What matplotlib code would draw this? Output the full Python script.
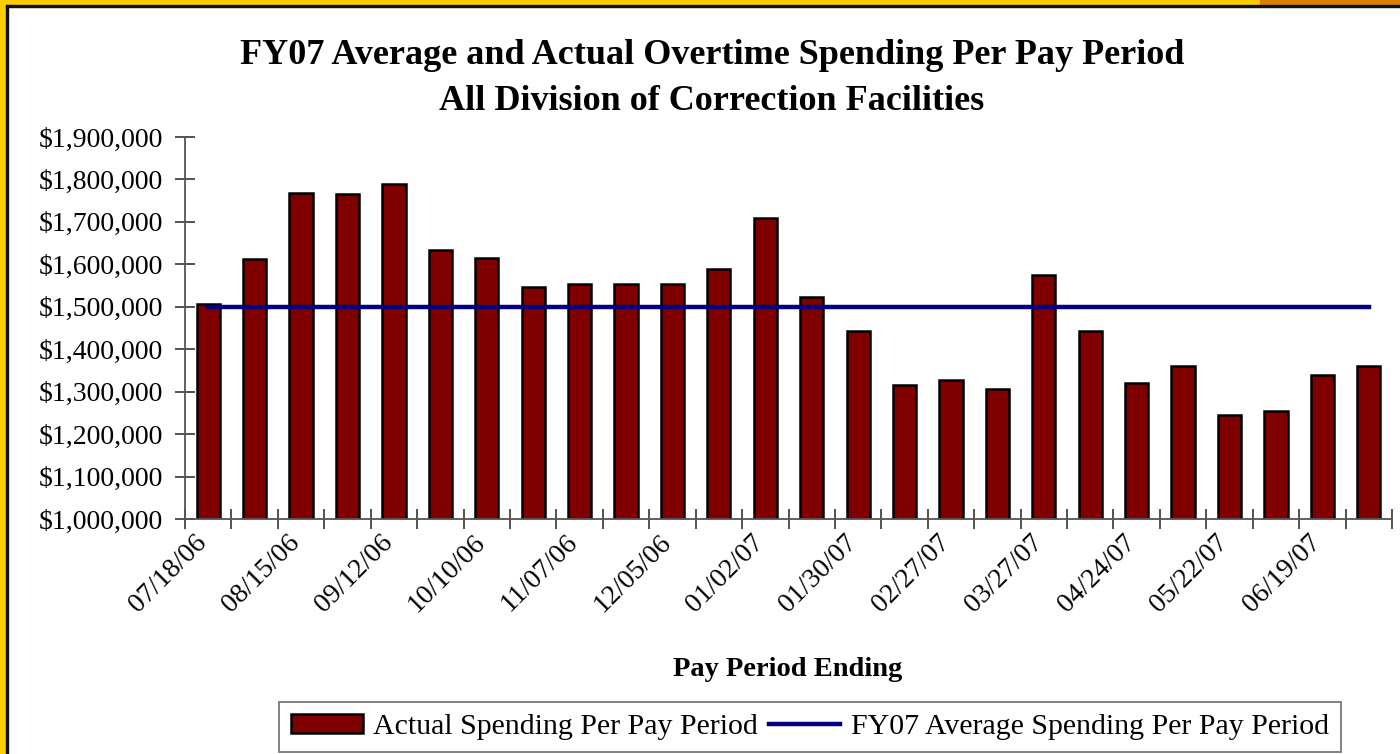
import matplotlib
matplotlib.use("Agg")
import matplotlib.pyplot as plt
import matplotlib.patches as patches
import matplotlib.transforms as mtransforms
from matplotlib.ticker import FuncFormatter, MultipleLocator
import numpy as np

plt.rcParams['font.family'] = ['Liberation Serif', 'DejaVu Serif']

# data (26 bi-weekly pay periods)
spending = [1507000, 1613000, 1768000, 1766000, 1789000, 1634000, 1615000,
            1547000, 1554000, 1554000, 1554000, 1589000, 1709000, 1523000,
            1443000, 1316000, 1328000, 1306000, 1575000, 1443000, 1320000,
            1360000, 1245000, 1254000, 1339000, 1360000]
average_spending = 1500000
tick_labels = ["07/18/06", "08/15/06", "09/12/06", "10/10/06", "11/07/06",
               "12/05/06", "01/02/07", "01/30/07", "02/27/07", "03/27/07",
               "04/24/07", "05/22/07", "06/19/07"]

W, H = 1400, 754
fig = plt.figure(figsize=(W / 100, H / 100), dpi=100)
fig.patch.set_facecolor("white")

# frame around the slide
fig.patches.append(patches.Rectangle((0, 0), 6 / W, 1, transform=fig.transFigure,
                                     color="#FFCC00", zorder=0))
fig.patches.append(patches.Rectangle((0, 1 - 5 / H), 1, 5 / H, transform=fig.transFigure,
                                     color="#FFCC00", zorder=0))
fig.patches.append(patches.Rectangle((1260 / W, 1 - 5 / H), 140 / W, 5 / H,
                                     transform=fig.transFigure, color="#D98000", zorder=0))
fig.patches.append(patches.Rectangle((6 / W, 0), 2 / W, 1 - 5 / H, transform=fig.transFigure,
                                     color="#111111", zorder=0))
fig.patches.append(patches.Rectangle((6 / W, 1 - 7 / H), 1 - 6 / W, 2 / H,
                                     transform=fig.transFigure, color="#111111", zorder=0))

ax = fig.add_axes([185 / W, 1 - 519 / H, (1392 - 185) / W, (519 - 137) / H])

x = np.arange(len(spending))
bars = ax.bar(x, spending, width=0.5, color="#800000", edgecolor="black", linewidth=1.8,
              zorder=2)
line, = ax.plot([x[0], x[-1]], [average_spending, average_spending], color="#000080",
                linewidth=3.2, zorder=3)

ax.set_xlim(-0.5, len(spending) - 0.5)
ax.set_ylim(1000000, 1900000)
ax.yaxis.set_major_locator(MultipleLocator(100000))
ax.yaxis.set_major_formatter(FuncFormatter(lambda v, p: f"${v:,.0f}"))

# labels on every other bar, tick marks on category boundaries
ax.set_xticks(x[::2])
ax.set_xticklabels(tick_labels, rotation=45, ha="right", rotation_mode="anchor",
                   fontsize=20)
ax.set_xticks(np.arange(len(spending) + 1) - 0.5, minor=True)
ax.tick_params(axis="x", which="major", length=0, pad=8)
ax.tick_params(axis="x", which="minor", direction="inout", length=14, width=1.3,
               color="#444444")
ax.tick_params(axis="y", direction="inout", length=14, width=1.3, color="#444444",
               labelsize=20, pad=9)
shift = mtransforms.ScaledTranslation(-14 / 100, 0, fig.dpi_scale_trans)
for lab in ax.get_xticklabels():
    lab.set_transform(lab.get_transform() + shift)

for side in ["top", "right"]:
    ax.spines[side].set_visible(False)
for side in ["left", "bottom"]:
    ax.spines[side].set_color("#555555")
    ax.spines[side].set_linewidth(1.3)

fig.text(712 / W, 1 - 55 / H, "FY07 Average and Actual Overtime Spending Per Pay Period",
         ha="center", va="center", fontsize=26, fontweight="bold")
fig.text(712 / W, 1 - 102 / H, "All Division of Correction Facilities",
         ha="center", va="center", fontsize=26, fontweight="bold")
fig.text(788 / W, 1 - 670 / H, "Pay Period Ending", ha="center", va="center",
         fontsize=20.5, fontweight="bold")

leg = fig.legend([bars, line],
                 ["Actual Spending Per Pay Period", "FY07 Average Spending Per Pay Period"],
                 loc="upper center", bbox_to_anchor=(810 / W, 1 - 702 / H), ncol=2,
                 fontsize=21.5, frameon=True, fancybox=False, edgecolor="#555555",
                 handlelength=2.4, handleheight=0.6, handletextpad=0.35, columnspacing=0.35,
                 borderpad=0.4, borderaxespad=0)
leg.get_frame().set_linewidth(1.3)

fig.savefig("out.png", dpi=100)
